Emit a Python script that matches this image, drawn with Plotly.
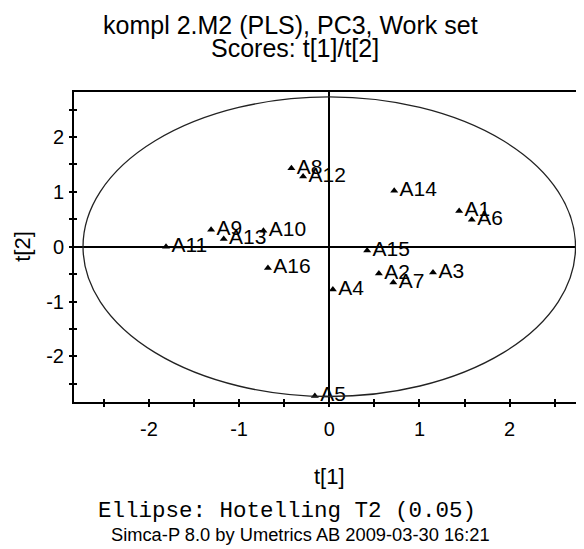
import plotly.graph_objects as go

# ---- data ----
labels = ["A1", "A2", "A3", "A4", "A5", "A6", "A7", "A8",
          "A9", "A10", "A11", "A12", "A13", "A14", "A15", "A16"]
t1 = [1.44, 0.55, 1.15, 0.04, -0.16, 1.58, 0.71, -0.42,
      -1.31, -0.73, -1.81, -0.29, -1.17, 0.72, 0.42, -0.68]
t2 = [0.65, -0.49, -0.47, -0.78, -2.72, 0.49, -0.65, 1.43,
      0.31, 0.29, 0.00, 1.28, 0.14, 1.02, -0.07, -0.39]
ellipse_a = 2.73   # Hotelling T2 (0.05) semi-axis along t[1]
ellipse_b = 2.73   # semi-axis along t[2]
x_range = [-2.83, 2.824]
y_range = [-2.83, 2.82]
x_ticks = [-2, -1, 0, 1, 2]
y_ticks = [-2, -1, 0, 1, 2]
x_tick_text = ["-2", "-1", "0", "1", "2"]
y_tick_text = ["-2", "-1", "0", "1", "2"]

# the page body adds an 8px margin, so the figure is laid out 8px up/left
OFF = 8
W, H = 584 - OFF, 549 - OFF
PLOT_L, PLOT_T, PLOT_B = 74, 92, 402.5   # page pixels of plot frame
ML, MR, MT = PLOT_L - OFF, 0, PLOT_T - OFF
MB = H - (PLOT_B - OFF)

FONT = "Liberation Sans, Arial, sans-serif"
MONO = "Liberation Mono, Courier New, monospace"

fig = go.Figure()
fig.add_trace(go.Scatter(
    x=t1, y=t2, mode="markers+text", text=labels,
    textposition="middle right",
    textfont=dict(family=FONT, size=21, color="black"),
    marker=dict(symbol="triangle-up", size=7, color="black"),
    cliponaxis=False, showlegend=False, hoverinfo="skip"))
# helper empty trace so the overlay axes (inward half of crossing ticks) exist
fig.add_trace(go.Scatter(x=[], y=[], xaxis="x2", yaxis="y2", showlegend=False))

fig.add_shape(type="circle", xref="x", yref="y",
              x0=-ellipse_a, x1=ellipse_a, y0=-ellipse_b, y1=ellipse_b,
              line=dict(color="#222", width=1.3), layer="above")

axis_common = dict(showgrid=False, zeroline=True, zerolinecolor="black",
                   zerolinewidth=1.6, ticks="outside", ticklen=3,
                   tickwidth=1.5, tickcolor="black",
                   minor=dict(ticks="outside", dtick=0.5, ticklen=3,
                              tickwidth=1.5, tickcolor="black"),
                   tickfont=dict(family=FONT, size=20, color="black"),
                   linecolor="black", linewidth=2, showline=True)
overlay_common = dict(showticklabels=False, showgrid=False, zeroline=False,
                      showline=False, ticks="inside", ticklen=3,
                      tickwidth=1.5, tickcolor="black",
                      minor=dict(ticks="inside", dtick=0.5, ticklen=3,
                                 tickwidth=1.5, tickcolor="black"))

fig.update_layout(
    width=W, height=H,
    margin=dict(l=ML, r=MR, t=MT, b=MB, autoexpand=False),
    paper_bgcolor="white", plot_bgcolor="white",
    xaxis=dict(range=x_range, tickvals=x_ticks, ticktext=x_tick_text,
               mirror=True, ticklabelstandoff=5, **axis_common),
    yaxis=dict(range=y_range, tickvals=y_ticks, ticktext=y_tick_text,
               mirror=False, ticklabelstandoff=1, **axis_common),
    xaxis2=dict(range=x_range, overlaying="x", anchor="y", side="bottom",
                tickvals=x_ticks, **overlay_common),
    yaxis2=dict(range=y_range, overlaying="y", anchor="x", side="left",
                tickvals=y_ticks, **overlay_common),
)

PW = W - ML - MR
PH = H - MT - MB


def px(xp):
    return (xp - OFF - ML) / PW


def py(yp):
    return (H - MB - (yp - OFF)) / PH


def ann(text, xp, yp, font, angle=0):
    fig.add_annotation(text=text, xref="paper", yref="paper",
                       x=px(xp), y=py(yp), xanchor="center", yanchor="middle",
                       showarrow=False, font=font, textangle=angle)


ann("kompl 2.M2 (PLS), PC3, Work set", 290, 24.5,
    dict(family=FONT, size=25, color="black"))
ann("Scores: t[1]/t[2]", 295, 48,
    dict(family=FONT, size=25, color="black"))
ann("t[1]", 329, 477, dict(family=FONT, size=22, color="black"))
ann("t[2]", 23, 247, dict(family=FONT, size=22, color="black"), angle=-90)
ann("Ellipse: Hotelling T2 (0.05)", 287, 512,
    dict(family=MONO, size=22.5, color="black"))
ann("Simca-P 8.0 by Umetrics AB 2009-03-30 16:21", 300, 535,
    dict(family=FONT, size=18.3, color="black"))

fig.write_html("out.html")
